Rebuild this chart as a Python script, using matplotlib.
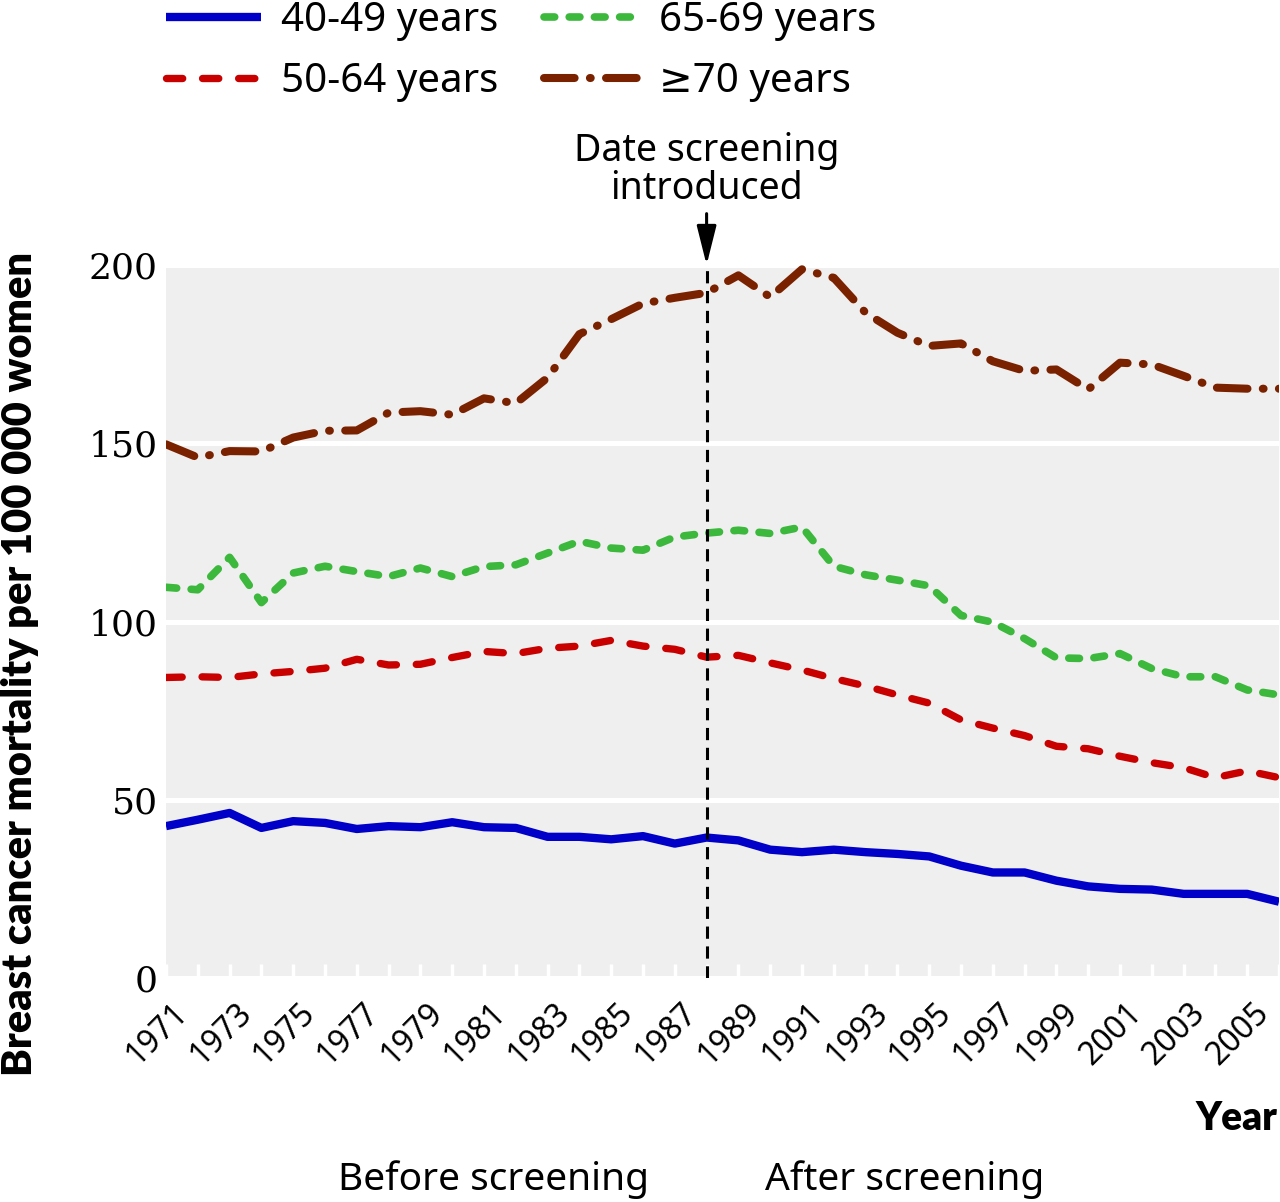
import numpy as np
import matplotlib
matplotlib.use('Agg')
import matplotlib.pyplot as plt
import matplotlib.transforms as mtransforms

plt.rcParams['font.family'] = ['Noto Sans', 'DejaVu Sans']

years = np.arange(1971, 2007)
screening_year = 1988

age_40_49 = [42.6, 44.4, 46.3, 42.1, 44.0, 43.5, 41.8, 42.6, 42.3, 43.7, 42.3, 42.1,
             39.6, 39.6, 38.9, 39.8, 37.7, 39.4, 38.6, 36.0, 35.3, 36.0, 35.3, 34.8,
             34.1, 31.5, 29.6, 29.6, 27.3, 25.7, 25.0, 24.8, 23.6, 23.6, 23.6, 21.4]
age_50_64 = [84.3, 84.5, 84.3, 85.3, 86.0, 86.9, 89.4, 87.8, 88.0, 89.9, 91.6, 91.0,
             92.5, 93.1, 94.7, 93.1, 92.2, 90.0, 90.5, 88.4, 86.4, 84.0, 81.9, 79.4,
             77.1, 72.4, 70.1, 68.0, 65.0, 64.3, 62.2, 60.4, 59.0, 56.2, 58.1, 56.2]
age_65_69 = [109.6, 108.9, 118.0, 105.3, 113.6, 115.5, 114.0, 112.6, 115.0, 112.6, 115.4, 115.9,
             119.2, 122.5, 120.6, 120.0, 123.7, 124.8, 125.6, 124.7, 126.5, 115.5, 113.1, 111.6,
             110.0, 101.7, 99.8, 95.2, 89.8, 89.6, 91.0, 86.8, 84.5, 84.5, 80.8, 79.4]
age_70_plus = [149.7, 146.0, 147.8, 147.7, 151.6, 153.5, 153.6, 158.6, 159.0, 158.0, 162.6, 161.2,
               168.4, 180.6, 184.8, 189.2, 190.8, 192.2, 197.1, 191.0, 198.8, 196.4, 186.6, 181.0,
               177.3, 178.0, 173.0, 170.3, 170.7, 165.1, 172.6, 172.1, 168.9, 165.6, 165.3, 165.3]

labels = ['40-49 years', '50-64 years', '65-69 years', '\u226570 years']
colors = ['#0000c8', '#c80000', '#3cb83c', '#7a2200']

fig = plt.figure(figsize=(12.8, 12.02), dpi=100)
ax = fig.add_axes([166/1280, 1 - 978/1202, 1113/1280, 713/1202])
ax.set_facecolor('#efefef')
for s in ax.spines.values():
    s.set_visible(False)

ax.plot(years, age_40_49, color=colors[0], lw=6, solid_capstyle='butt', label=labels[0])
ax.plot(years, age_50_64, color=colors[1], lw=5.3, dashes=(2.2, 2.7), dash_capstyle='round', label=labels[1])
ax.plot(years, age_65_69, color=colors[2], lw=5.5, dashes=(1.4, 1.9), dash_capstyle='round', label=labels[2])
ax.plot(years, age_70_plus, color=colors[3], lw=5.8, dashes=(3.8, 1.9, 0.1, 1.9), dash_capstyle='round', label=labels[3])

# screening start marker
ax.axvline(screening_year, color='black', lw=2.2, dashes=(4, 2.5), zorder=5)
ax.annotate('', xy=(screening_year, 1.0), xycoords=('data', 'axes fraction'),
            xytext=(screening_year, 1.072), textcoords=('data', 'axes fraction'),
            arrowprops=dict(arrowstyle='-|>,head_length=1.2,head_width=0.3',
                            color='black', lw=2.2, mutation_scale=20, shrinkA=0, shrinkB=0))
ax.text(screening_year, 1.133, 'Date screening\nintroduced', transform=ax.get_xaxis_transform(),
        ha='center', va='center', fontsize=27, linespacing=1.0)

ax.set_xlim(years[0], years[-1])
ax.set_ylim(0, 200)
ax.set_yticks([0, 50, 100, 150, 200])
ax.grid(axis='y', color='white', lw=3.6)
ax.set_axisbelow(True)
ax.tick_params(axis='y', length=0, pad=6)
for t in ax.get_yticklabels():
    t.set_fontfamily('DejaVu Serif')
    t.set_fontsize(26)

ax.set_xticks(years)
ax.set_xticklabels([str(y) if y % 2 == 1 else '' for y in years], rotation=45,
                   ha='right', va='center', rotation_mode='anchor', fontsize=23)
ax.tick_params(axis='x', direction='in', length=10, width=2.5, color='white', pad=22)
offset = mtransforms.ScaledTranslation(0.17, 0, fig.dpi_scale_trans)
for t in ax.get_xticklabels():
    t.set_transform(t.get_transform() + offset)

fig.legend(loc='upper left', bbox_to_anchor=(166/1280, 0.999), ncol=2, frameon=False,
           fontsize=29, handlelength=2.35, handletextpad=0.5, columnspacing=1.15,
           labelspacing=0.52, borderpad=0, borderaxespad=0)

fig.text(20/1280, 1 - 664/1202, 'Breast cancer mortality per 100 000 women', rotation=90,
         ha='center', va='center', fontsize=30, fontweight='heavy', family=['Lato', 'DejaVu Sans'])
fig.text(1277/1280, 1 - 1118/1202, 'Year', ha='right', va='center', fontsize=28,
         fontweight='heavy', family=['Lato', 'DejaVu Sans'])
fig.text(493/1280, 1 - 1180/1202, 'Before screening', ha='center', va='center', fontsize=28)
fig.text(905/1280, 1 - 1180/1202, 'After screening', ha='center', va='center', fontsize=28)

fig.savefig('out.png', dpi=100)
